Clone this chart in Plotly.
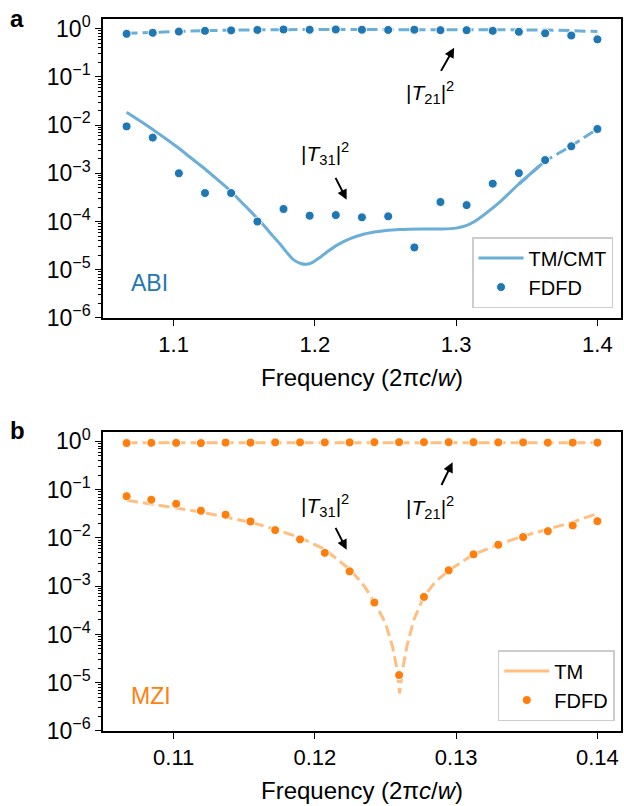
import plotly.graph_objects as go

# ---------------- data: panel a (ABI) ----------------
abi_x = [1.0667, 1.0852, 1.1037, 1.1222, 1.1407, 1.1593, 1.1778, 1.1963, 1.2148, 1.2333,
         1.2519, 1.2704, 1.2889, 1.3074, 1.3259, 1.3444, 1.3630, 1.3815, 1.4000]
abi_fdfd_t21 = [0.78, 0.82, 0.87, 0.90, 0.92, 0.94, 0.96, 0.95, 0.96, 0.95,
                0.94, 0.95, 0.93, 0.93, 0.90, 0.86, 0.80, 0.72, 0.60]
abi_fdfd_t31 = [0.0094, 0.0055, 0.00100, 0.00039, 0.00039, 0.000100, 0.000182, 0.000132, 0.000136, 0.000122,
                0.000128, 0.000029, 0.000254, 0.000219, 0.00061, 0.00101, 0.00188, 0.00363, 0.0083]
abi_tm_t21 = [0.80, 0.84, 0.88, 0.91, 0.93, 0.95, 0.96, 0.96, 0.96, 0.96,
              0.96, 0.96, 0.96, 0.96, 0.95, 0.95, 0.94, 0.91, 0.87]
abi_cmt_x = [1.0667, 1.0760, 1.0852, 1.0945, 1.1037, 1.1130, 1.1222, 1.1315, 1.1407, 1.1500,
             1.1593, 1.1650, 1.1700, 1.1750, 1.1800, 1.1850, 1.1900, 1.1940, 1.1980, 1.2030,
             1.2100, 1.2170, 1.2250, 1.2350, 1.2450, 1.2600, 1.2750, 1.2900, 1.3000, 1.3070,
             1.3130, 1.3200, 1.3300, 1.3444, 1.3630]
abi_cmt_t31 = [0.0184, 0.0123, 0.0081, 0.0052, 0.0033, 0.0020, 0.00123, 0.00072, 0.00042, 0.00022,
               0.000117, 7.6e-5, 5.1e-5, 3.5e-5, 2.3e-5, 1.6e-5, 1.35e-5, 1.3e-5, 1.4e-5, 1.75e-5,
               2.5e-5, 3.4e-5, 4.4e-5, 5.5e-5, 6.2e-5, 6.8e-5, 7.0e-5, 7.0e-5, 7.3e-5, 8.2e-5,
               1.0e-4, 1.4e-4, 2.4e-4, 6.0e-4, 1.8e-3]
abi_tm_x = [1.3444, 1.3630, 1.3815, 1.4000]
abi_tm_t31 = [6.0e-4, 1.8e-3, 3.7e-3, 8.3e-3]

# ---------------- data: panel b (MZI) ----------------
mzi_x = [0.10667, 0.10842, 0.11018, 0.11193, 0.11368, 0.11544, 0.11719, 0.11895, 0.12070, 0.12246,
         0.12421, 0.12596, 0.12772, 0.12947, 0.13123, 0.13298, 0.13474, 0.13649, 0.13825, 0.14000]
mzi_fdfd_t21 = [0.92, 0.93, 0.93, 0.92, 0.94, 0.94, 0.95, 0.95, 0.95, 0.95,
                0.96, 0.96, 0.96, 0.96, 0.96, 0.95, 0.95, 0.94, 0.94, 0.94]
mzi_fdfd_t31 = [0.073, 0.0615, 0.0508, 0.0365, 0.0302, 0.0219, 0.0145, 0.0093, 0.0049, 0.00203,
                0.000458, 1.44e-5, 0.000598, 0.00213, 0.00456, 0.0072, 0.0104, 0.0138, 0.0181, 0.0222]
mzi_tm_t21 = [0.93, 0.93, 0.93, 0.93, 0.94, 0.94, 0.95, 0.95, 0.95, 0.95,
              0.96, 0.96, 0.96, 0.96, 0.96, 0.95, 0.95, 0.95, 0.94, 0.94]
mzi_tm_x = [0.1067, 0.1085, 0.1102, 0.1120, 0.1137, 0.1155, 0.1172, 0.1190, 0.1207, 0.1225,
            0.1235, 0.1242, 0.1250, 0.1255, 0.1258, 0.1260, 0.1262, 0.1265, 0.1270, 0.1277,
            0.1285, 0.1295, 0.1312, 0.1330, 0.1347, 0.1365, 0.1382, 0.1400]
mzi_tm_t31 = [0.060, 0.050, 0.042, 0.034, 0.027, 0.021, 0.015, 0.0100, 0.0058, 0.0022,
              0.0010, 0.00048, 0.00017, 5.5e-5, 2.0e-5, 6.0e-6, 1.8e-5, 5.5e-5, 0.00020, 0.00060,
              0.00120, 0.00215, 0.0045, 0.0073, 0.0108, 0.0150, 0.0210, 0.0320]

tick_vals = [1e-6, 1e-5, 1e-4, 1e-3, 1e-2, 1e-1, 1]
tick_text = ["10<sup>−6</sup>", "10<sup>−5</sup>", "10<sup>−4</sup>", "10<sup>−3</sup>",
             "10<sup>−2</sup>", "10<sup>−1</sup>", "10<sup>0</sup>"]

BLUE = "#1f77b4"
BLUE_L = "#6baed6"
ORANGE = "#ff7f0e"
ORANGE_L = "#ffbf80"
FONT = "Arial, Liberation Sans, Helvetica, sans-serif"
DASH = "11px,5px"

fig = go.Figure()

# panel a
fig.add_trace(go.Scatter(x=abi_x, y=abi_tm_t21, mode="lines", xaxis="x", yaxis="y",
                         line=dict(color=BLUE_L, width=3, dash=DASH), showlegend=False))
fig.add_trace(go.Scatter(x=abi_tm_x, y=abi_tm_t31, mode="lines", xaxis="x", yaxis="y",
                         line=dict(color=BLUE_L, width=3, dash=DASH), showlegend=False))
fig.add_trace(go.Scatter(x=abi_cmt_x, y=abi_cmt_t31, mode="lines", xaxis="x", yaxis="y",
                         line=dict(color=BLUE_L, width=3, shape="spline", smoothing=0.5),
                         name="TM/CMT", legend="legend"))
fig.add_trace(go.Scatter(x=abi_x, y=abi_fdfd_t21, mode="markers", xaxis="x", yaxis="y",
                         marker=dict(color=BLUE, size=9, line=dict(color="white", width=1)),
                         showlegend=False))
fig.add_trace(go.Scatter(x=abi_x, y=abi_fdfd_t31, mode="markers", xaxis="x", yaxis="y",
                         marker=dict(color=BLUE, size=9, line=dict(color="white", width=1)),
                         name="FDFD", legend="legend"))

# panel b
fig.add_trace(go.Scatter(x=mzi_x, y=mzi_tm_t21, mode="lines", xaxis="x2", yaxis="y2",
                         line=dict(color=ORANGE_L, width=3, dash=DASH), showlegend=False))
fig.add_trace(go.Scatter(x=mzi_tm_x, y=mzi_tm_t31, mode="lines", xaxis="x2", yaxis="y2",
                         line=dict(color=ORANGE_L, width=3, dash=DASH), showlegend=False))
fig.add_trace(go.Scatter(x=[None], y=[None], mode="lines", xaxis="x2", yaxis="y2",
                         line=dict(color=ORANGE_L, width=3), name="TM", legend="legend2"))
fig.add_trace(go.Scatter(x=mzi_x, y=mzi_fdfd_t21, mode="markers", xaxis="x2", yaxis="y2",
                         marker=dict(color=ORANGE, size=9, line=dict(color="white", width=1)),
                         showlegend=False))
fig.add_trace(go.Scatter(x=mzi_x, y=mzi_fdfd_t31, mode="markers", xaxis="x2", yaxis="y2",
                         marker=dict(color=ORANGE, size=9, line=dict(color="white", width=1)),
                         name="FDFD", legend="legend2"))

xaxis_common = dict(showgrid=False, zeroline=False, showline=True, linecolor="black", linewidth=1.6,
                    mirror=True, ticks="outside", ticklen=6, tickwidth=1.4, tickcolor="black",
                    tickfont=dict(size=22, color="black", family=FONT),
                    title=dict(text="Frequency (2π<i>c</i>/<i>w</i>)",
                               font=dict(size=24, color="black", family=FONT), standoff=13),
                    automargin=False)
yaxis_common = dict(type="log", showgrid=False, zeroline=False, showline=True, linecolor="black",
                    linewidth=1.6, mirror=True, ticks="outside", ticklen=6, tickwidth=1.4,
                    tickcolor="black", tickvals=tick_vals, ticktext=tick_text,
                    tickfont=dict(size=23, color="black", family=FONT),
                    minor=dict(ticks="outside", ticklen=3.5, tickwidth=1, tickcolor="black",
                               dtick="D1", showgrid=False),
                    range=[-6, 0.2], automargin=False)

fig.update_layout(
    width=624, height=806,
    margin=dict(l=103, r=3, t=19, b=75),
    paper_bgcolor="white", plot_bgcolor="white",
    font=dict(family=FONT, color="black"),
    xaxis=dict(**xaxis_common, domain=[0, 1], anchor="y", range=[1.05, 1.4167],
               tickvals=[1.1, 1.2, 1.3, 1.4], ticktext=["1.1", "1.2", "1.3", "1.4"]),
    yaxis=dict(**yaxis_common, domain=[0.5801, 1.0], anchor="x"),
    xaxis2=dict(**xaxis_common, domain=[0, 1], anchor="y2", range=[0.105, 0.14167],
                tickvals=[0.11, 0.12, 0.13, 0.14], ticktext=["0.11", "0.12", "0.13", "0.14"]),
    yaxis2=dict(**yaxis_common, domain=[0, 0.4204], anchor="x2"),
    legend=dict(x=0.9846, y=0.594, xanchor="right", yanchor="bottom",
                bgcolor="rgba(255,255,255,0.8)", bordercolor="#cccccc", borderwidth=1.5,
                font=dict(size=20, color="black", family=FONT), tracegroupgap=0, itemwidth=45),
    legend2=dict(x=0.988, y=0.014, xanchor="right", yanchor="bottom",
                 bgcolor="rgba(255,255,255,0.8)", bordercolor="#cccccc", borderwidth=1.5,
                 font=dict(size=20, color="black", family=FONT), tracegroupgap=0, itemwidth=45),
    showlegend=True,
)

ann = []
# panel labels
ann.append(dict(text="<b>a</b>", xref="paper", yref="paper", x=-0.166, y=1.001,
                showarrow=False, font=dict(size=24, color="black", family=FONT),
                xanchor="center", yanchor="middle"))
ann.append(dict(text="<b>b</b>", xref="paper", yref="paper", x=-0.166, y=(731 - 430) / 712,
                showarrow=False, font=dict(size=24, color="black", family=FONT),
                xanchor="center", yanchor="middle"))
# system names
ann.append(dict(text="ABI", xref="x domain", yref="y domain", x=0.05, y=0.117,
                showarrow=False, font=dict(size=23, color=BLUE, family=FONT),
                xanchor="left", yanchor="middle"))
ann.append(dict(text="MZI", xref="x2 domain", yref="y2 domain", x=0.05, y=0.117,
                showarrow=False, font=dict(size=23, color=ORANGE, family=FONT),
                xanchor="left", yanchor="middle"))

T21 = "|<i>T</i><sub>21</sub>|<sup>2</sup>"
T31 = "|<i>T</i><sub>31</sub>|<sup>2</sup>"
lab_font = dict(size=21, color="black", family=FONT)

# panel a labels/arrows (y in log10 units)
ann.append(dict(text=T21, xref="x", yref="y", x=1.2814, y=-1.328, showarrow=False, font=lab_font))
ann.append(dict(text="", xref="x", yref="y", axref="x", ayref="y", x=1.2986, y=-0.394,
                ax=1.2887, ay=-0.907, showarrow=True, arrowhead=2, arrowsize=1,
                arrowwidth=2, arrowcolor="black"))
ann.append(dict(text=T31, xref="x", yref="y", x=1.207, y=-2.579, showarrow=False, font=lab_font))
ann.append(dict(text="", xref="x", yref="y", axref="x", ayref="y", x=1.2225, y=-3.548,
                ax=1.2141, ay=-3.064, showarrow=True, arrowhead=2, arrowsize=1,
                arrowwidth=2, arrowcolor="black"))
# panel b labels/arrows
ann.append(dict(text=T31, xref="x2", yref="y2", x=0.1207, y=-1.329, showarrow=False, font=lab_font))
ann.append(dict(text="", xref="x2", yref="y2", axref="x2", ayref="y2", x=0.12225, y=-2.244,
                ax=0.12141, ay=-1.762, showarrow=True, arrowhead=2, arrowsize=1,
                arrowwidth=2, arrowcolor="black"))
ann.append(dict(text=T21, xref="x2", yref="y2", x=0.12815, y=-1.364, showarrow=False, font=lab_font))
ann.append(dict(text="", xref="x2", yref="y2", axref="x2", ayref="y2", x=0.12975, y=-0.434,
                ax=0.12891, ay=-0.936, showarrow=True, arrowhead=2, arrowsize=1,
                arrowwidth=2, arrowcolor="black"))

fig.update_layout(annotations=ann)

fig.write_html("out.html", config={"displayModeBar": False},
               post_script="document.body.style.margin='0px';document.body.style.overflow='hidden';")
